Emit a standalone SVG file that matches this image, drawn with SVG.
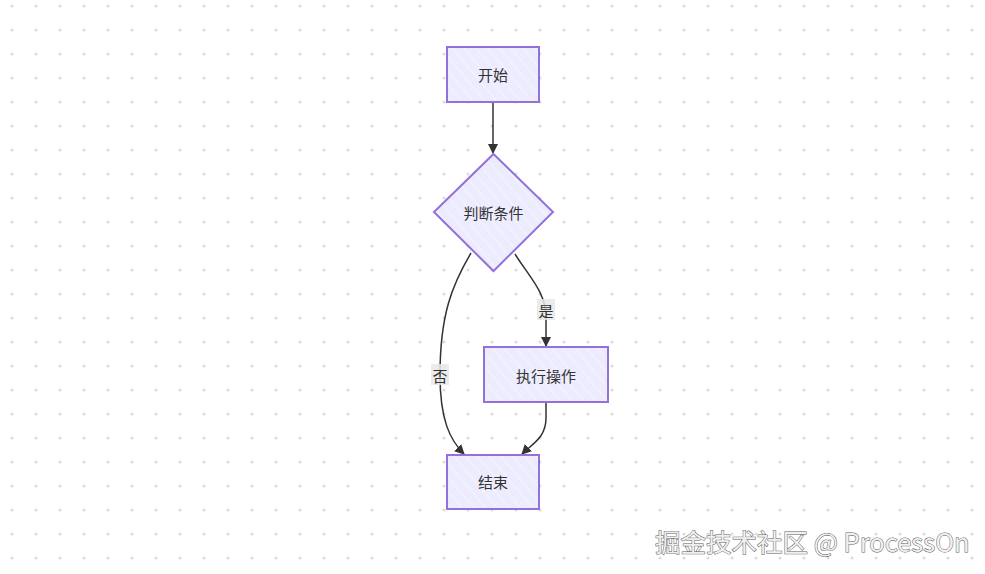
<svg xmlns="http://www.w3.org/2000/svg" width="985" height="574" viewBox="0 0 985 574">
  <defs>
    <pattern id="dots" x="0" y="0" width="24" height="24" patternUnits="userSpaceOnUse">
      <circle cx="12" cy="6" r="1.6" fill="#dcdcdc"/>
    </pattern>
    <pattern id="hatch" width="9" height="9" patternUnits="userSpaceOnUse" patternTransform="rotate(-40)">
      <rect width="9" height="9" fill="#ececfe"/>
      <line x1="0" y1="0" x2="0" y2="9" stroke="#ffffff" stroke-width="1" opacity="0.8"/>
    </pattern>
    <marker id="arrow" viewBox="0 0 10 10" refX="9" refY="5" markerWidth="10" markerHeight="10" markerUnits="userSpaceOnUse" orient="auto">
      <path d="M0,0 L10,5 L0,10 z" fill="#333333"/>
    </marker>
    <style>
      .node { fill: url(#hatch); stroke: #9370db; stroke-width: 2; }
      .lbl { font-family: "Noto Sans CJK SC", "Noto Sans", sans-serif; font-size: 15px; fill: #333333; text-anchor: middle; dominant-baseline: central; }
      .edge { fill: none; stroke: #333333; stroke-width: 1.5; marker-end: url(#arrow); }
      .ebg { fill: #e8e8e8; opacity: 0.85; }
      .wm { font-family: "Noto Sans CJK SC", "Noto Sans", sans-serif; font-size: 25.5px; fill: #f0f0f0; stroke: #5e5e5e; stroke-width: 1; paint-order: stroke; }
    </style>
  </defs>
  <rect width="985" height="574" fill="#ffffff"/>
  <rect width="985" height="574" fill="url(#dots)"/>

  <g id="connectors">
    <path class="edge" d="M493,102 L493,153"/>
    <path class="edge" d="M515,254 C530,278 546,292 546,318 L546,346"/>
    <path class="edge" d="M471,253 C452,285 440,315 440,375 C440,420 450,440 464,454"/>
    <path class="edge" d="M546,402 L546,418 C546,438 532,444 522,454"/>
    <rect class="ebg" x="537" y="299" width="18" height="21"/>
    <text class="lbl" x="546" y="310">是</text>
    <rect class="ebg" x="431" y="364" width="18" height="21"/>
    <text class="lbl" x="440" y="375">否</text>
  </g>

  <g id="start">
    <rect class="node" x="447" y="47" width="92" height="55"/>
    <text class="lbl" x="493" y="74">开始</text>
  </g>
  <g id="decision">
    <polygon class="node" points="493.5,154 553,212 493.5,271 434,212"/>
    <text class="lbl" x="493.5" y="212">判断条件</text>
  </g>
  <g id="action">
    <rect class="node" x="484" y="347" width="124" height="55"/>
    <text class="lbl" x="546" y="375">执行操作</text>
  </g>
  <g id="end">
    <rect class="node" x="447" y="455" width="92" height="54"/>
    <text class="lbl" x="493" y="481">结束</text>
  </g>

  <text class="wm" x="655" y="552">掘金技术社区 @ ProcessOn</text>
</svg>
